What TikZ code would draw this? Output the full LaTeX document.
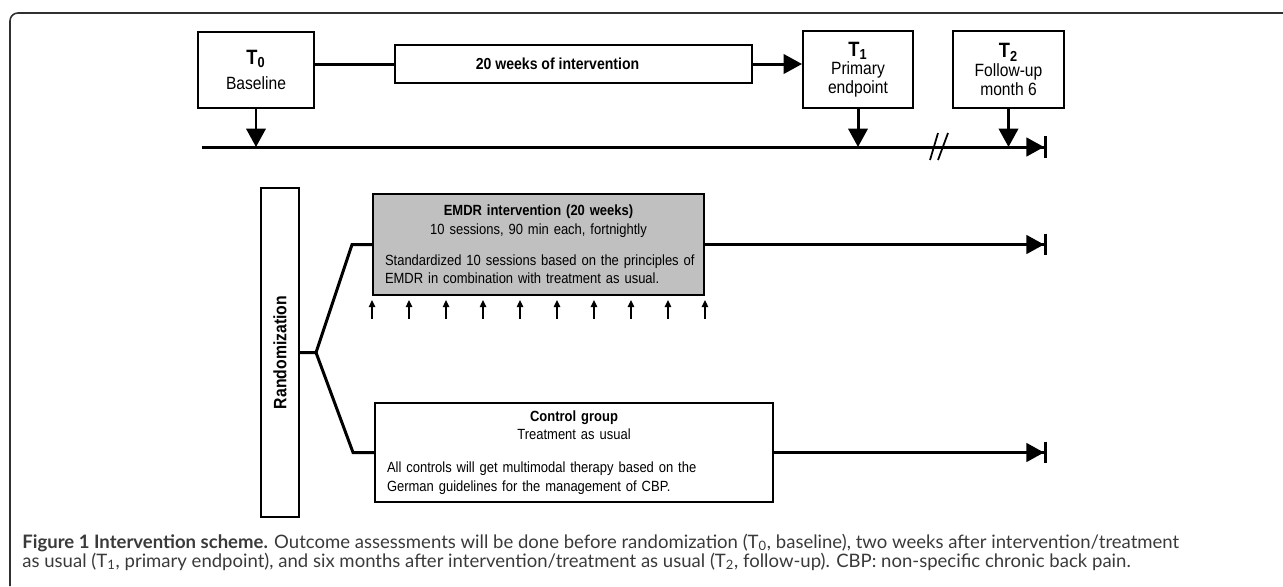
\documentclass[tikz,border=0pt]{standalone}
\usepackage{fontspec}
\setmainfont{Liberation Sans}[FakeStretch=0.88]
\newfontfamily\capfont{Lato}
\usetikzlibrary{calc,positioning,arrows.meta}
\setlength{\parindent}{0pt}

\definecolor{boxgray}{HTML}{C0C0C0}
\definecolor{capgray}{HTML}{3A3A3A}
\definecolor{framegray}{HTML}{303030}

\newcommand{\px}{0.02cm}
\newcommand{\Tlab}[1]{{\fontsize{11.8}{12}\selectfont\textbf{T\textsubscript{#1}}}}

\begin{document}
\begin{tikzpicture}[x=0.02cm,y=-0.02cm,
    >={Triangle[length=10.5pt,width=11pt]},
    line/.style={line width=1.7pt},
    box/.style={draw,line width=1.1pt,inner sep=0pt,align=center,
      font=\fontsize{10.1}{10.6}\selectfont},
    armbox/.style={box,align=left,inner xsep=12*\px,
      font=\fontsize{8.4}{10.6}\selectfont},
    endtip/.style={-{Triangle[length=10pt,width=10.5pt]Bar[width=12.5pt,line width=1.7pt]}},
    tick/.style={line width=0.8pt,-{Triangle[length=4pt,width=3.6pt]}},
    caption/.style={anchor=base west,inner sep=0pt,text=capgray,
      font=\capfont\fontsize{10.55}{12}\selectfont}
  ]
    \useasboundingbox (0,0) rectangle (1283,586);

    % frame
    \draw[framegray,line width=0.9pt,rounded corners=4.5pt] (1283,13) -- (10,13) -- (10,586);

    % time points
    \node[box,minimum width=116*\px,minimum height=76*\px] (t0) at (256,70)
      {\Tlab{0}\\[4pt]Baseline};
    \node[box,minimum width=357*\px,minimum height=38*\px,
      font=\bfseries\fontsize{9.1}{10}\selectfont] (interv) at (573.5,64)
      {20 weeks of intervention\hspace*{0.64cm}};
    \node[box,minimum width=110*\px,minimum height=77*\px] (t1) at (858,69.5)
      {\Tlab{1}\\Primary\\endpoint};
    \node[box,minimum width=111*\px,minimum height=77*\px] (t2) at (1008.5,69.5)
      {\Tlab{2}\\Follow-up\\month 6};

    \draw[line] (interv.west) -- (interv.west -| t0.east);
    \draw[line,->] (interv.east) -- (interv.east -| t1.west);

    % time line
    \coordinate (tlstart) at (202,147);
    \coordinate (tlend) at (1047,147);
    \coordinate (brk) at (939,147);
    \draw[line,endtip] (tlstart) -- (tlend);
    \foreach \t in {t0,t1,t2} {\draw[line,->] (\t.south) -- (\t.south |- tlstart);};
    \draw[line width=1pt] ($(brk)+(-9,13)$) -- ($(brk)+(-1,-14)$)
                          ($(brk)+(-1,13)$) -- ($(brk)+(9,-14)$);

    % randomization and the two arms
    \node[box,minimum width=38*\px,minimum height=329*\px,
      font=\bfseries\fontsize{10.2}{10.2}\selectfont] (rand) at (280,352.5)
      {\rotatebox{90}{Randomization}};
    \node[armbox,fill=boxgray,text width=307*\px,minimum height=101*\px] (emdr) at (538.5,244.5)
      {{\centering\textbf{EMDR intervention (20 weeks)}\\10 sessions, 90 min each, fortnightly\par}
       \vspace{7pt}\mbox{Standardized 10 sessions based on the principles of}\\
       \mbox{EMDR in combination with treatment as usual.}};
    \node[armbox,text width=374*\px,minimum height=99*\px] (ctrl) at (574,452.5)
      {{\centering\textbf{Control group}\\Treatment as usual\par}
       \vspace{8pt}\mbox{All controls will get multimodal therapy based on the}\\
       \mbox{German guidelines for the management of CBP.}};

    \coordinate (split) at (316,352.5);
    \draw[line] (rand.east) -- (split) -- ($(emdr.west)+(-20,0)$) -- (emdr.west);
    \draw[line] (split) -- ($(ctrl.west)+(-21,0)$) -- (ctrl.west);
    \draw[line,endtip] (emdr.east) -- (emdr.east -| tlend);
    \draw[line,endtip] (ctrl.east) -- (ctrl.east -| tlend);

    % sessions
    \foreach \k in {0,...,9} {\draw[tick] ($(emdr.south west)!\k/9!(emdr.south east)+(0,23)$) -- ++(0,-19);};

    % caption
    \node[caption] (cap1) at (22,548)
      {\textbf{Figure 1 Intervention scheme.} Outcome assessments will be done before randomization (T\textsubscript{0}, baseline), two weeks after intervention/treatment};
    \node[caption] (cap2) at (22,567)
      {as usual (T\textsubscript{1}, primary endpoint), and six months after intervention/treatment as usual (T\textsubscript{2}, follow-up). CBP: non-specific chronic back pain.};
\end{tikzpicture}
\end{document}
